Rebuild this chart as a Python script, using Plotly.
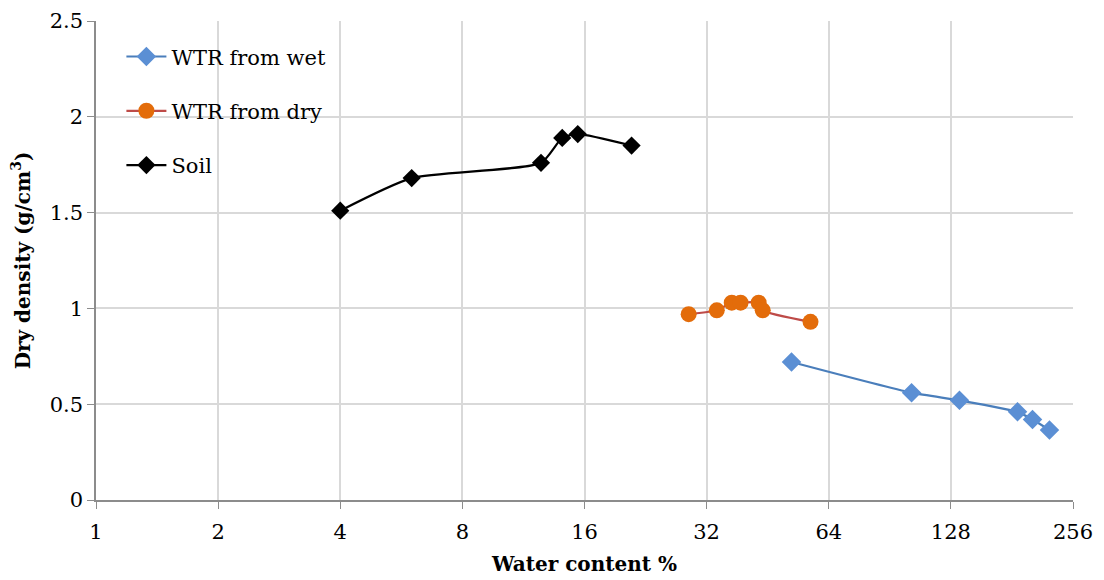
import plotly.graph_objects as go

# Water content (%) and dry density (g/cm3)
wet_water = [51.8, 102.4, 134.4, 186.8, 203.4, 224.0]
wet_density = [0.72, 0.56, 0.52, 0.46, 0.42, 0.365]

dry_water = [28.9, 33.9, 36.9, 38.8, 43.0, 44.0, 57.7]
dry_density = [0.97, 0.99, 1.03, 1.03, 1.03, 0.99, 0.93]

soil_water = [4.0, 6.0, 12.5, 14.1, 15.4, 20.9]
soil_density = [1.51, 1.68, 1.76, 1.89, 1.91, 1.85]

x_ticks = [1, 2, 4, 8, 16, 32, 64, 128, 256]
y_ticks = [0, 0.5, 1, 1.5, 2, 2.5]
y_labels = ["0", "0.5", "1", "1.5", "2", "2.5"]

FONT = "DejaVu Serif"
tick_font = dict(family=FONT, size=21, color="black")
title_font = dict(family=FONT, size=20, color="black")

fig = go.Figure()
fig.add_trace(go.Scatter(
    x=wet_water, y=wet_density, name="WTR from wet", legendgroup="a",
    mode="lines+markers", line=dict(color="#4a7ebb", width=2.2, shape="spline", smoothing=0.6),
    marker=dict(symbol="diamond", size=15, color="#5b8fd4"),
))
fig.add_trace(go.Scatter(
    x=dry_water, y=dry_density, name="WTR from dry", legendgroup="b",
    mode="lines+markers", line=dict(color="#be4b48", width=2.2, shape="spline", smoothing=0.6),
    marker=dict(symbol="circle", size=16, color="#e36c0a"),
))
fig.add_trace(go.Scatter(
    x=soil_water, y=soil_density, name="Soil", legendgroup="c",
    mode="lines+markers", line=dict(color="black", width=2.2, shape="spline", smoothing=0.6),
    marker=dict(symbol="diamond", size=14, color="black"),
))

# the page adds an 8px body margin, so the figure is 8px smaller each way
fig.update_layout(
    width=1096, height=572,
    margin=dict(l=88, r=31, t=13, b=80, autoexpand=False),
    plot_bgcolor="white", paper_bgcolor="white",
    font=dict(family=FONT, size=21, color="black"),
    showlegend=True,
    legend=dict(x=0.026, y=0.968, xanchor="left", yanchor="top",
                bgcolor="rgba(0,0,0,0)", font=dict(family=FONT, size=21, color="black"),
                traceorder="grouped", tracegroupgap=24, itemwidth=40),
)
fig.update_xaxes(
    type="log", range=[0, 2.40824], tickvals=x_ticks, ticktext=[str(v) for v in x_ticks],
    tickfont=tick_font, automargin=False, ticklabeloverflow="allow",
    showgrid=True, gridcolor="#d9d9d9", gridwidth=1.5,
    showline=True, linecolor="#8c8c8c", linewidth=1.5,
    ticks="outside", ticklen=7, tickcolor="#8c8c8c",
    zeroline=False, ticklabelstandoff=5,
    title=dict(text="<b>Water content %</b>", font=title_font, standoff=14),
)
fig.update_yaxes(
    range=[0, 2.5], tickvals=y_ticks, ticktext=y_labels,
    tickfont=tick_font, automargin=False, ticklabeloverflow="allow",
    showgrid=True, gridcolor="#d9d9d9", gridwidth=1.5,
    showline=True, linecolor="#8c8c8c", linewidth=1.5,
    ticks="outside", ticklen=7, tickcolor="#8c8c8c",
    zeroline=False,
    title=dict(text="<b>Dry density (g/cm<sup>3</sup>)</b>", font=title_font, standoff=14),
)

fig.write_html("out.html")
